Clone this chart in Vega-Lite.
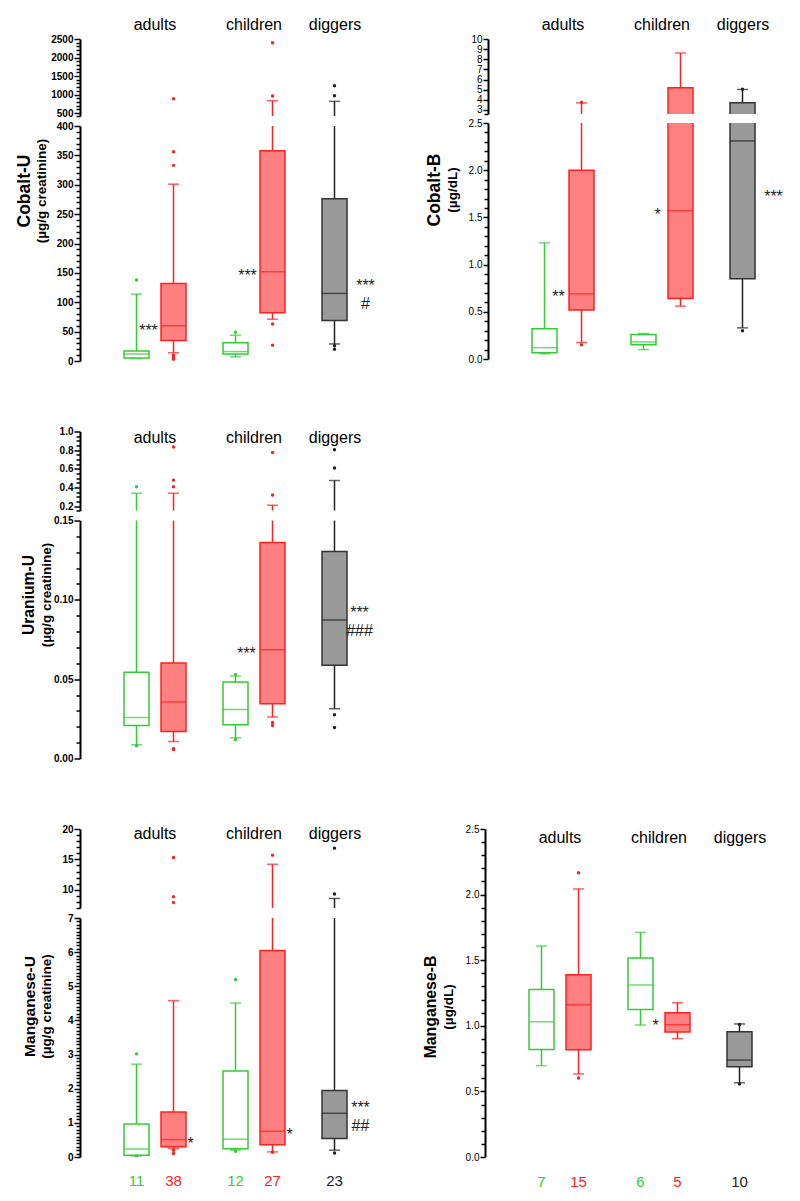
{
"$schema": "https://vega.github.io/schema/vega-lite/v6.json",
"padding": {"left": 15, "top": 16, "right": 0, "bottom": 0},
"config": {
  "font": "Liberation Sans",
  "view": {"stroke": null},
  "axis": {"domainWidth": 2, "domainColor": "#000000", "tickColor": "#000000", "tickWidth": 1.5, "labelFontSize": 10, "labelColor": "#000000", "labelPadding": 1, "grid": false, "title": null, "labelOverlap": false, "labelFont": "Liberation Sans"},
  "title": {"color": "#000000", "subtitleColor": "#000000"}
},
"datasets": {
  "boxes": [
    {"panel":"CoU","group":"adults","sub":"1","cohort":"control","lo":4,"q1":5,"med":12,"q3":17,"hi":114},
    {"panel":"CoU","group":"adults","sub":"2","cohort":"exposed","lo":14,"q1":35,"med":60,"q3":132,"hi":301},
    {"panel":"CoU","group":"children","sub":"1","cohort":"control","lo":7,"q1":12,"med":16,"q3":31,"hi":44},
    {"panel":"CoU","group":"children","sub":"2","cohort":"exposed","lo":71,"q1":82,"med":152,"q3":358,"hi":832},
    {"panel":"CoU","group":"diggers","sub":"1","cohort":"diggers","lo":29,"q1":69,"med":115,"q3":276,"hi":816},
    {"panel":"CoB","group":"adults","sub":"1","cohort":"control","lo":0.055,"q1":0.065,"med":0.12,"q3":0.32,"hi":1.23},
    {"panel":"CoB","group":"adults","sub":"2","cohort":"exposed","lo":0.175,"q1":0.52,"med":0.69,"q3":2.0,"hi":3.7},
    {"panel":"CoB","group":"children","sub":"1","cohort":"control","lo":0.10,"q1":0.15,"med":0.18,"q3":0.26,"hi":0.27},
    {"panel":"CoB","group":"children","sub":"2","cohort":"exposed","lo":0.56,"q1":0.64,"med":1.57,"q3":5.18,"hi":8.62},
    {"panel":"CoB","group":"diggers","sub":"1","cohort":"diggers","lo":0.33,"q1":0.85,"med":2.31,"q3":3.7,"hi":5.02},
    {"panel":"UU","group":"adults","sub":"1","cohort":"control","lo":0.0086,"q1":0.0208,"med":0.0259,"q3":0.0543,"hi":0.34},
    {"panel":"UU","group":"adults","sub":"2","cohort":"exposed","lo":0.0107,"q1":0.017,"med":0.0356,"q3":0.0602,"hi":0.34},
    {"panel":"UU","group":"children","sub":"1","cohort":"control","lo":0.0131,"q1":0.0213,"med":0.0309,"q3":0.0482,"hi":0.052},
    {"panel":"UU","group":"children","sub":"2","cohort":"exposed","lo":0.0261,"q1":0.0345,"med":0.0686,"q3":0.1361,"hi":0.211},
    {"panel":"UU","group":"diggers","sub":"1","cohort":"diggers","lo":0.0314,"q1":0.0587,"med":0.0873,"q3":0.1304,"hi":0.476},
    {"panel":"MnU","group":"adults","sub":"1","cohort":"control","lo":0.03,"q1":0.05,"med":0.235,"q3":0.97,"hi":2.72,"n":"11"},
    {"panel":"MnU","group":"adults","sub":"2","cohort":"exposed","lo":0.245,"q1":0.30,"med":0.51,"q3":1.32,"hi":4.58,"n":"38"},
    {"panel":"MnU","group":"children","sub":"1","cohort":"control","lo":0.2,"q1":0.245,"med":0.52,"q3":2.52,"hi":4.51,"n":"12"},
    {"panel":"MnU","group":"children","sub":"2","cohort":"exposed","lo":0.15,"q1":0.36,"med":0.755,"q3":6.05,"hi":14.2,"n":"27"},
    {"panel":"MnU","group":"diggers","sub":"1","cohort":"diggers","lo":0.2,"q1":0.54,"med":1.28,"q3":1.95,"hi":8.57,"n":"23"},
    {"panel":"MnB","group":"adults","sub":"1","cohort":"control","lo":0.696,"q1":0.82,"med":1.031,"q3":1.277,"hi":1.608,"n":"7"},
    {"panel":"MnB","group":"adults","sub":"2","cohort":"exposed","lo":0.633,"q1":0.818,"med":1.161,"q3":1.39,"hi":2.043,"n":"15"},
    {"panel":"MnB","group":"children","sub":"1","cohort":"control","lo":1.006,"q1":1.125,"med":1.311,"q3":1.517,"hi":1.712,"n":"6"},
    {"panel":"MnB","group":"children","sub":"2","cohort":"exposed","lo":0.902,"q1":0.953,"med":1.008,"q3":1.10,"hi":1.176,"n":"5"},
    {"panel":"MnB","group":"diggers","sub":"1","cohort":"diggers","lo":0.566,"q1":0.688,"med":0.739,"q3":0.955,"hi":1.014,"n":"10"}
  ],
  "outliers": [
    {"panel":"CoU","group":"adults","sub":"1","cohort":"control","value":138},
    {"panel":"CoU","group":"adults","sub":"2","cohort":"exposed","value":333},
    {"panel":"CoU","group":"adults","sub":"2","cohort":"exposed","value":356},
    {"panel":"CoU","group":"adults","sub":"2","cohort":"exposed","value":886},
    {"panel":"CoU","group":"adults","sub":"2","cohort":"exposed","value":10},
    {"panel":"CoU","group":"adults","sub":"2","cohort":"exposed","value":3},
    {"panel":"CoU","group":"adults","sub":"2","cohort":"exposed","value":6},
    {"panel":"CoU","group":"children","sub":"1","cohort":"control","value":49},
    {"panel":"CoU","group":"children","sub":"2","cohort":"exposed","value":63},
    {"panel":"CoU","group":"children","sub":"2","cohort":"exposed","value":27},
    {"panel":"CoU","group":"children","sub":"2","cohort":"exposed","value":959},
    {"panel":"CoU","group":"children","sub":"2","cohort":"exposed","value":2400},
    {"panel":"CoU","group":"diggers","sub":"1","cohort":"diggers","value":20},
    {"panel":"CoU","group":"diggers","sub":"1","cohort":"diggers","value":26},
    {"panel":"CoU","group":"diggers","sub":"1","cohort":"diggers","value":968},
    {"panel":"CoU","group":"diggers","sub":"1","cohort":"diggers","value":1238},
    {"panel":"CoB","group":"adults","sub":"2","cohort":"exposed","value":0.15},
    {"panel":"CoB","group":"adults","sub":"2","cohort":"exposed","value":3.75},
    {"panel":"CoB","group":"diggers","sub":"1","cohort":"diggers","value":0.30},
    {"panel":"CoB","group":"diggers","sub":"1","cohort":"diggers","value":5.05},
    {"panel":"UU","group":"adults","sub":"1","cohort":"control","value":0.41},
    {"panel":"UU","group":"adults","sub":"1","cohort":"control","value":0.008},
    {"panel":"UU","group":"adults","sub":"2","cohort":"exposed","value":0.41},
    {"panel":"UU","group":"adults","sub":"2","cohort":"exposed","value":0.48},
    {"panel":"UU","group":"adults","sub":"2","cohort":"exposed","value":0.834},
    {"panel":"UU","group":"adults","sub":"2","cohort":"exposed","value":0.0063},
    {"panel":"UU","group":"adults","sub":"2","cohort":"exposed","value":0.0056},
    {"panel":"UU","group":"children","sub":"1","cohort":"control","value":0.053},
    {"panel":"UU","group":"children","sub":"1","cohort":"control","value":0.012},
    {"panel":"UU","group":"children","sub":"2","cohort":"exposed","value":0.32},
    {"panel":"UU","group":"children","sub":"2","cohort":"exposed","value":0.775},
    {"panel":"UU","group":"children","sub":"2","cohort":"exposed","value":0.0227},
    {"panel":"UU","group":"children","sub":"2","cohort":"exposed","value":0.0208},
    {"panel":"UU","group":"diggers","sub":"1","cohort":"diggers","value":0.61},
    {"panel":"UU","group":"diggers","sub":"1","cohort":"diggers","value":0.805},
    {"panel":"UU","group":"diggers","sub":"1","cohort":"diggers","value":0.0276},
    {"panel":"UU","group":"diggers","sub":"1","cohort":"diggers","value":0.0196},
    {"panel":"MnU","group":"adults","sub":"1","cohort":"control","value":3.02},
    {"panel":"MnU","group":"adults","sub":"1","cohort":"control","value":0.03},
    {"panel":"MnU","group":"adults","sub":"2","cohort":"exposed","value":15.3},
    {"panel":"MnU","group":"adults","sub":"2","cohort":"exposed","value":8.85},
    {"panel":"MnU","group":"adults","sub":"2","cohort":"exposed","value":7.9},
    {"panel":"MnU","group":"adults","sub":"2","cohort":"exposed","value":0.2},
    {"panel":"MnU","group":"adults","sub":"2","cohort":"exposed","value":0.1},
    {"panel":"MnU","group":"children","sub":"1","cohort":"control","value":5.2},
    {"panel":"MnU","group":"children","sub":"1","cohort":"control","value":0.17},
    {"panel":"MnU","group":"children","sub":"2","cohort":"exposed","value":15.7},
    {"panel":"MnU","group":"children","sub":"2","cohort":"exposed","value":0.14},
    {"panel":"MnU","group":"diggers","sub":"1","cohort":"diggers","value":9.29},
    {"panel":"MnU","group":"diggers","sub":"1","cohort":"diggers","value":16.85},
    {"panel":"MnU","group":"diggers","sub":"1","cohort":"diggers","value":0.12},
    {"panel":"MnB","group":"adults","sub":"2","cohort":"exposed","value":2.167},
    {"panel":"MnB","group":"adults","sub":"2","cohort":"exposed","value":0.602},
    {"panel":"MnB","group":"diggers","sub":"1","cohort":"diggers","value":0.556},
    {"panel":"MnB","group":"diggers","sub":"1","cohort":"diggers","value":1.01}
  ],
  "annots": [
    {"panel":"CoU","group":"adults","sub":"2","side":"L","value":58,"text":"***"},
    {"panel":"CoU","group":"children","sub":"2","side":"L","value":152,"text":"***"},
    {"panel":"CoU","group":"diggers","sub":"1","side":"R","value":135,"text":"***"},
    {"panel":"CoU","group":"diggers","sub":"1","side":"H","value":97,"text":"#"},
    {"panel":"CoB","group":"adults","sub":"2","side":"L","value":0.70,"text":"**"},
    {"panel":"CoB","group":"children","sub":"2","side":"L","value":1.57,"text":"*"},
    {"panel":"CoB","group":"diggers","sub":"1","side":"R","value":1.76,"text":"***"},
    {"panel":"UU","group":"children","sub":"2","side":"L","value":0.0686,"text":"***"},
    {"panel":"UU","group":"diggers","sub":"1","side":"R","value":0.0943,"text":"***"},
    {"panel":"UU","group":"diggers","sub":"1","side":"H","value":0.0806,"text":"###"},
    {"panel":"MnU","group":"adults","sub":"2","side":"N","value":0.51,"text":"*"},
    {"panel":"MnU","group":"children","sub":"2","side":"N","value":0.76,"text":"*"},
    {"panel":"MnU","group":"diggers","sub":"1","side":"R","value":1.55,"text":"***"},
    {"panel":"MnU","group":"diggers","sub":"1","side":"H","value":0.91,"text":"##"},
    {"panel":"MnB","group":"children","sub":"2","side":"L","value":1.026,"text":"*"}
  ]
},
"spacing": 60.5,
"vconcat": [
 {"hconcat": [
  {"title": {"text":"Cobalt-U","subtitle":"(µg/g creatinine)","orient":"left","anchor":"middle","frame":"bounds","fontSize":17.5,"fontWeight":"bold","subtitleFontSize":13.5,"subtitleFontWeight":"bold","subtitlePadding":2,"offset":2,"font":"Liberation Sans","subtitleFont":"Liberation Sans"},
   "spacing": 10, "bounds": "flush",
   "vconcat": [
    {"width": 310, "height": 77,
     "encoding": {"x": {"field":"group","type":"nominal","scale":{"domain":["adults","children","diggers"],"paddingInner":0.2525,"paddingOuter":0.192,"align":1},"axis":{"orient":"top","domain":false,"ticks":false,"tickSize":0,"labelFontSize":16,"labelFontWeight":"normal","labelPadding":7,"offset":0,"labelAngle":0,"labelOffset":{"condition":{"test":"datum.value == 'diggers'","value":-18},"value":0}}},
       "xOffset": {"field":"sub","type":"nominal","scale":{"domain":["1","2"],"paddingInner":0,"paddingOuter":0}},
       "color": {"field":"cohort","type":"nominal","scale":{"domain":["control","exposed","diggers"],"range":["#33cc33","#ff2020","#222222"]},"legend":null}},
     "layer": [
      {"data":{"name":"boxes"},"transform":[{"filter":"datum.panel=='CoU'"}],"mark":{"type":"rule","clip":true,"strokeWidth":1.5},
       "encoding":{"y":{"field":"lo","type":"quantitative","scale":{"domain":[420,2500],"nice":false,"zero":false},"axis":{"values":[420,500,600,700,800,900,1000,1100,1200,1300,1400,1500,1600,1700,1800,1900,2000,2100,2200,2300,2400,2500],"tickCount":500,"labelExpr":"datum.value % 500 == 0 ? format(datum.value,'d') : ''","tickSize":{"condition":{"test":"datum.value % 500 == 0","value":6},"value":4},"labelOverlap":false,"labelFontWeight":"bold"}},"y2":{"field":"hi"}}},
      {"data":{"name":"boxes"},"transform":[{"filter":"datum.panel=='CoU'"},{"fold":["lo","hi"],"as":["k","v"]}],"mark":{"type":"tick","clip":true,"size":11,"thickness":1.5},
       "encoding":{"y":{"field":"v","type":"quantitative","scale":{"domain":[420,2500],"nice":false,"zero":false}}}},
      {"data":{"name":"boxes"},"transform":[{"filter":"datum.panel=='CoU'"}],"mark":{"type":"bar","clip":true,"width":25,"strokeWidth":1.5},
       "encoding":{"y":{"field":"q1","type":"quantitative","scale":{"domain":[420,2500],"nice":false,"zero":false}},"y2":{"field":"q3"},
        "fill":{"field":"cohort","type":"nominal","scale":{"domain":["control","exposed","diggers"],"range":["#ffffff","#ff8080","#999999"]},"legend":null},
        "stroke":{"field":"cohort","type":"nominal","scale":{"domain":["control","exposed","diggers"],"range":["#33cc33","#ff2020","#333333"]},"legend":null}}},
      {"data":{"name":"boxes"},"transform":[{"filter":"datum.panel=='CoU'"}],"mark":{"type":"tick","clip":true,"size":25,"thickness":1.5},
       "encoding":{"y":{"field":"med","type":"quantitative","scale":{"domain":[420,2500],"nice":false,"zero":false}}}},
      {"data":{"name":"outliers"},"transform":[{"filter":"datum.panel=='CoU'"}],"mark":{"type":"circle","clip":true,"size":12,"opacity":1},
       "encoding":{"y":{"field":"value","type":"quantitative","scale":{"domain":[420,2500],"nice":false,"zero":false}}}}
     ]},
    {"width": 310, "height": 235,
     "encoding": {"x": {"field":"group","type":"nominal","scale":{"domain":["adults","children","diggers"],"paddingInner":0.2525,"paddingOuter":0.192,"align":1},"axis":null},
       "xOffset": {"field":"sub","type":"nominal","scale":{"domain":["1","2"],"paddingInner":0,"paddingOuter":0}},
       "color": {"field":"cohort","type":"nominal","scale":{"domain":["control","exposed","diggers"],"range":["#33cc33","#ff2020","#222222"]},"legend":null}},
     "layer": [
      {"data":{"name":"boxes"},"transform":[{"filter":"datum.panel=='CoU'"}],"mark":{"type":"rule","clip":true,"strokeWidth":1.5},
       "encoding":{"y":{"field":"lo","type":"quantitative","scale":{"domain":[0,400],"nice":false,"zero":false},"axis":{"values":[0,10,20,30,40,50,60,70,80,90,100,110,120,130,140,150,160,170,180,190,200,210,220,230,240,250,260,270,280,290,300,310,320,330,340,350,360,370,380,390,400],"tickCount":500,"labelExpr":"datum.value % 50 == 0 ? format(datum.value,'d') : ''","tickSize":{"condition":{"test":"datum.value % 50 == 0","value":6},"value":4},"labelOverlap":false,"labelFontWeight":"bold"}},"y2":{"field":"hi"}}},
      {"data":{"name":"boxes"},"transform":[{"filter":"datum.panel=='CoU'"},{"fold":["lo","hi"],"as":["k","v"]}],"mark":{"type":"tick","clip":true,"size":11,"thickness":1.5},
       "encoding":{"y":{"field":"v","type":"quantitative","scale":{"domain":[0,400],"nice":false,"zero":false}}}},
      {"data":{"name":"boxes"},"transform":[{"filter":"datum.panel=='CoU'"}],"mark":{"type":"bar","clip":true,"width":25,"strokeWidth":1.5},
       "encoding":{"y":{"field":"q1","type":"quantitative","scale":{"domain":[0,400],"nice":false,"zero":false}},"y2":{"field":"q3"},
        "fill":{"field":"cohort","type":"nominal","scale":{"domain":["control","exposed","diggers"],"range":["#ffffff","#ff8080","#999999"]},"legend":null},
        "stroke":{"field":"cohort","type":"nominal","scale":{"domain":["control","exposed","diggers"],"range":["#33cc33","#ff2020","#333333"]},"legend":null}}},
      {"data":{"name":"boxes"},"transform":[{"filter":"datum.panel=='CoU'"}],"mark":{"type":"tick","clip":true,"size":25,"thickness":1.5},
       "encoding":{"y":{"field":"med","type":"quantitative","scale":{"domain":[0,400],"nice":false,"zero":false}}}},
      {"data":{"name":"outliers"},"transform":[{"filter":"datum.panel=='CoU'"}],"mark":{"type":"circle","clip":true,"size":12,"opacity":1},
       "encoding":{"y":{"field":"value","type":"quantitative","scale":{"domain":[0,400],"nice":false,"zero":false}}}},
      {"data":{"name":"annots"},"transform":[{"filter":"datum.panel=='CoU' && datum.side=='L'"}],"mark":{"type":"text","fontSize":16,"dx":-25,"dy":4,"align":"center","baseline":"middle"},
       "encoding":{"y":{"field":"value","type":"quantitative","scale":{"domain":[0,400],"nice":false,"zero":false}},"text":{"field":"text"},"color":{"value":"#222222"}}},
      {"data":{"name":"annots"},"transform":[{"filter":"datum.panel=='CoU' && datum.side=='R'"}],"mark":{"type":"text","fontSize":16,"dx":31,"dy":4,"align":"center","baseline":"middle"},
       "encoding":{"y":{"field":"value","type":"quantitative","scale":{"domain":[0,400],"nice":false,"zero":false}},"text":{"field":"text"},"color":{"value":"#222222"}}},
      {"data":{"name":"annots"},"transform":[{"filter":"datum.panel=='CoU' && datum.side=='H'"}],"mark":{"type":"text","fontSize":16,"dx":31,"dy":0,"align":"center","baseline":"middle"},
       "encoding":{"y":{"field":"value","type":"quantitative","scale":{"domain":[0,400],"nice":false,"zero":false}},"text":{"field":"text"},"color":{"value":"#222222"}}}
     ]}
   ]},
  {"title": {"text":"Cobalt-B","subtitle":"(µg/dL)","orient":"left","anchor":"middle","frame":"bounds","fontSize":17.5,"fontWeight":"bold","subtitleFontSize":13.5,"subtitleFontWeight":"bold","subtitlePadding":2,"offset":9,"font":"Liberation Sans","subtitleFont":"Liberation Sans"},
   "spacing": 9, "bounds": "flush",
   "vconcat": [
    {"width": 310, "height": 75,
     "encoding": {"x": {"field":"group","type":"nominal","scale":{"domain":["adults","children","diggers"],"paddingInner":0.2525,"paddingOuter":0.192,"align":1},"axis":{"orient":"top","domain":false,"ticks":false,"tickSize":0,"labelFontSize":16,"labelFontWeight":"normal","labelPadding":7,"offset":0,"labelAngle":0,"labelOffset":{"condition":{"test":"datum.value == 'diggers'","value":-18},"value":0}}},
       "xOffset": {"field":"sub","type":"nominal","scale":{"domain":["1","2"],"paddingInner":0,"paddingOuter":0}},
       "color": {"field":"cohort","type":"nominal","scale":{"domain":["control","exposed","diggers"],"range":["#33cc33","#ff2020","#222222"]},"legend":null}},
     "layer": [
      {"data":{"name":"boxes"},"transform":[{"filter":"datum.panel=='CoB'"}],"mark":{"type":"rule","clip":true,"strokeWidth":1.5},
       "encoding":{"y":{"field":"lo","type":"quantitative","scale":{"domain":[2.6,10],"nice":false,"zero":false},"axis":{"values":[2.6,3,4,5,6,7,8,9,10],"tickCount":500,"labelExpr":"datum.value >= 3 ? format(datum.value,'d') : ''","tickSize":{"condition":{"test":"datum.value >= 3","value":5},"value":4},"labelOverlap":false,"labelFontWeight":"normal"}},"y2":{"field":"hi"}}},
      {"data":{"name":"boxes"},"transform":[{"filter":"datum.panel=='CoB'"},{"fold":["lo","hi"],"as":["k","v"]}],"mark":{"type":"tick","clip":true,"size":11,"thickness":1.5},
       "encoding":{"y":{"field":"v","type":"quantitative","scale":{"domain":[2.6,10],"nice":false,"zero":false}}}},
      {"data":{"name":"boxes"},"transform":[{"filter":"datum.panel=='CoB'"}],"mark":{"type":"bar","clip":true,"width":25,"strokeWidth":1.5},
       "encoding":{"y":{"field":"q1","type":"quantitative","scale":{"domain":[2.6,10],"nice":false,"zero":false}},"y2":{"field":"q3"},
        "fill":{"field":"cohort","type":"nominal","scale":{"domain":["control","exposed","diggers"],"range":["#ffffff","#ff8080","#999999"]},"legend":null},
        "stroke":{"field":"cohort","type":"nominal","scale":{"domain":["control","exposed","diggers"],"range":["#33cc33","#ff2020","#333333"]},"legend":null}}},
      {"data":{"name":"boxes"},"transform":[{"filter":"datum.panel=='CoB'"}],"mark":{"type":"tick","clip":true,"size":25,"thickness":1.5},
       "encoding":{"y":{"field":"med","type":"quantitative","scale":{"domain":[2.6,10],"nice":false,"zero":false}}}},
      {"data":{"name":"outliers"},"transform":[{"filter":"datum.panel=='CoB'"}],"mark":{"type":"circle","clip":true,"size":12,"opacity":1},
       "encoding":{"y":{"field":"value","type":"quantitative","scale":{"domain":[2.6,10],"nice":false,"zero":false}}}}
     ]},
    {"width": 310, "height": 236,
     "encoding": {"x": {"field":"group","type":"nominal","scale":{"domain":["adults","children","diggers"],"paddingInner":0.2525,"paddingOuter":0.192,"align":1},"axis":null},
       "xOffset": {"field":"sub","type":"nominal","scale":{"domain":["1","2"],"paddingInner":0,"paddingOuter":0}},
       "color": {"field":"cohort","type":"nominal","scale":{"domain":["control","exposed","diggers"],"range":["#33cc33","#ff2020","#222222"]},"legend":null}},
     "layer": [
      {"data":{"name":"boxes"},"transform":[{"filter":"datum.panel=='CoB'"}],"mark":{"type":"rule","clip":true,"strokeWidth":1.5},
       "encoding":{"y":{"field":"lo","type":"quantitative","scale":{"domain":[0,2.5],"nice":false,"zero":false},"axis":{"values":[0,0.1,0.2,0.3,0.4,0.5,0.6,0.7,0.8,0.9,1,1.1,1.2,1.3,1.4,1.5,1.6,1.7,1.8,1.9,2,2.1,2.2,2.3,2.4,2.5],"tickCount":500,"labelExpr":"abs(datum.value*2-round(datum.value*2))<0.001 ? format(datum.value,'.1f') : ''","tickSize":{"condition":{"test":"abs(datum.value*2-round(datum.value*2))<0.001","value":5},"value":4},"labelOverlap":false,"labelFontWeight":"normal"}},"y2":{"field":"hi"}}},
      {"data":{"name":"boxes"},"transform":[{"filter":"datum.panel=='CoB'"},{"fold":["lo","hi"],"as":["k","v"]}],"mark":{"type":"tick","clip":true,"size":11,"thickness":1.5},
       "encoding":{"y":{"field":"v","type":"quantitative","scale":{"domain":[0,2.5],"nice":false,"zero":false}}}},
      {"data":{"name":"boxes"},"transform":[{"filter":"datum.panel=='CoB'"}],"mark":{"type":"bar","clip":true,"width":25,"strokeWidth":1.5},
       "encoding":{"y":{"field":"q1","type":"quantitative","scale":{"domain":[0,2.5],"nice":false,"zero":false}},"y2":{"field":"q3"},
        "fill":{"field":"cohort","type":"nominal","scale":{"domain":["control","exposed","diggers"],"range":["#ffffff","#ff8080","#999999"]},"legend":null},
        "stroke":{"field":"cohort","type":"nominal","scale":{"domain":["control","exposed","diggers"],"range":["#33cc33","#ff2020","#333333"]},"legend":null}}},
      {"data":{"name":"boxes"},"transform":[{"filter":"datum.panel=='CoB'"}],"mark":{"type":"tick","clip":true,"size":25,"thickness":1.5},
       "encoding":{"y":{"field":"med","type":"quantitative","scale":{"domain":[0,2.5],"nice":false,"zero":false}}}},
      {"data":{"name":"outliers"},"transform":[{"filter":"datum.panel=='CoB'"}],"mark":{"type":"circle","clip":true,"size":12,"opacity":1},
       "encoding":{"y":{"field":"value","type":"quantitative","scale":{"domain":[0,2.5],"nice":false,"zero":false}}}},
      {"data":{"name":"annots"},"transform":[{"filter":"datum.panel=='CoB' && datum.side=='L'"}],"mark":{"type":"text","fontSize":16,"dx":-23,"dy":4,"align":"center","baseline":"middle"},
       "encoding":{"y":{"field":"value","type":"quantitative","scale":{"domain":[0,2.5],"nice":false,"zero":false}},"text":{"field":"text"},"color":{"value":"#222222"}}},
      {"data":{"name":"annots"},"transform":[{"filter":"datum.panel=='CoB' && datum.side=='R'"}],"mark":{"type":"text","fontSize":16,"dx":31,"dy":4,"align":"center","baseline":"middle"},
       "encoding":{"y":{"field":"value","type":"quantitative","scale":{"domain":[0,2.5],"nice":false,"zero":false}},"text":{"field":"text"},"color":{"value":"#222222"}}}
     ]}
   ]}
 ], "spacing": 36},
 {"title": {"text":"Uranium-U","subtitle":"(µg/g creatinine)","orient":"left","anchor":"middle","frame":"bounds","fontSize":15.7,"fontWeight":"bold","subtitleFontSize":13.5,"subtitleFontWeight":"bold","subtitlePadding":2,"offset":-1,"font":"Liberation Sans","subtitleFont":"Liberation Sans"},
  "spacing": 10, "bounds": "flush",
  "vconcat": [
    {"width": 310, "height": 79,
     "encoding": {"x": {"field":"group","type":"nominal","scale":{"domain":["adults","children","diggers"],"paddingInner":0.2525,"paddingOuter":0.192,"align":1},"axis":{"orient":"top","domain":false,"ticks":false,"tickSize":0,"labelFontSize":16,"labelFontWeight":"normal","labelPadding":0,"offset":-14,"labelAngle":0,"labelOffset":{"condition":{"test":"datum.value == 'diggers'","value":-18},"value":0}}},
       "xOffset": {"field":"sub","type":"nominal","scale":{"domain":["1","2"],"paddingInner":0,"paddingOuter":0}},
       "color": {"field":"cohort","type":"nominal","scale":{"domain":["control","exposed","diggers"],"range":["#33cc33","#ff2020","#222222"]},"legend":null}},
     "layer": [
      {"data":{"name":"boxes"},"transform":[{"filter":"datum.panel=='UU'"}],"mark":{"type":"rule","clip":true,"strokeWidth":1.5},
       "encoding":{"y":{"field":"lo","type":"quantitative","scale":{"domain":[0.155,1],"nice":false,"zero":false},"axis":{"values":[0.155,0.2,0.25,0.3,0.35,0.4,0.45,0.5,0.55,0.6,0.65,0.7,0.75,0.8,0.85,0.9,0.95,1],"tickCount":500,"labelExpr":"abs(datum.value*5-round(datum.value*5))<0.001 ? format(datum.value,'.1f') : ''","tickSize":{"condition":{"test":"abs(datum.value*5-round(datum.value*5))<0.001","value":6},"value":4},"labelOverlap":false,"labelFontWeight":"bold"}},"y2":{"field":"hi"}}},
      {"data":{"name":"boxes"},"transform":[{"filter":"datum.panel=='UU'"},{"fold":["lo","hi"],"as":["k","v"]}],"mark":{"type":"tick","clip":true,"size":11,"thickness":1.5},
       "encoding":{"y":{"field":"v","type":"quantitative","scale":{"domain":[0.155,1],"nice":false,"zero":false}}}},
      {"data":{"name":"boxes"},"transform":[{"filter":"datum.panel=='UU'"}],"mark":{"type":"bar","clip":true,"width":25,"strokeWidth":1.5},
       "encoding":{"y":{"field":"q1","type":"quantitative","scale":{"domain":[0.155,1],"nice":false,"zero":false}},"y2":{"field":"q3"},
        "fill":{"field":"cohort","type":"nominal","scale":{"domain":["control","exposed","diggers"],"range":["#ffffff","#ff8080","#999999"]},"legend":null},
        "stroke":{"field":"cohort","type":"nominal","scale":{"domain":["control","exposed","diggers"],"range":["#33cc33","#ff2020","#333333"]},"legend":null}}},
      {"data":{"name":"boxes"},"transform":[{"filter":"datum.panel=='UU'"}],"mark":{"type":"tick","clip":true,"size":25,"thickness":1.5},
       "encoding":{"y":{"field":"med","type":"quantitative","scale":{"domain":[0.155,1],"nice":false,"zero":false}}}},
      {"data":{"name":"outliers"},"transform":[{"filter":"datum.panel=='UU'"}],"mark":{"type":"circle","clip":true,"size":12,"opacity":1},
       "encoding":{"y":{"field":"value","type":"quantitative","scale":{"domain":[0.155,1],"nice":false,"zero":false}}}}
     ]},
    {"width": 310, "height": 238,
     "encoding": {"x": {"field":"group","type":"nominal","scale":{"domain":["adults","children","diggers"],"paddingInner":0.2525,"paddingOuter":0.192,"align":1},"axis":null},
       "xOffset": {"field":"sub","type":"nominal","scale":{"domain":["1","2"],"paddingInner":0,"paddingOuter":0}},
       "color": {"field":"cohort","type":"nominal","scale":{"domain":["control","exposed","diggers"],"range":["#33cc33","#ff2020","#222222"]},"legend":null}},
     "layer": [
      {"data":{"name":"boxes"},"transform":[{"filter":"datum.panel=='UU'"}],"mark":{"type":"rule","clip":true,"strokeWidth":1.5},
       "encoding":{"y":{"field":"lo","type":"quantitative","scale":{"domain":[0,0.15],"nice":false,"zero":false},"axis":{"values":[0,0.01,0.02,0.03,0.04,0.05,0.06,0.07,0.08,0.09,0.1,0.11,0.12,0.13,0.14,0.15],"tickCount":500,"labelExpr":"abs(datum.value*20-round(datum.value*20))<0.001 ? format(datum.value,'.2f') : ''","tickSize":{"condition":{"test":"abs(datum.value*20-round(datum.value*20))<0.001","value":6},"value":4},"labelOverlap":false,"labelFontWeight":"bold"}},"y2":{"field":"hi"}}},
      {"data":{"name":"boxes"},"transform":[{"filter":"datum.panel=='UU'"},{"fold":["lo","hi"],"as":["k","v"]}],"mark":{"type":"tick","clip":true,"size":11,"thickness":1.5},
       "encoding":{"y":{"field":"v","type":"quantitative","scale":{"domain":[0,0.15],"nice":false,"zero":false}}}},
      {"data":{"name":"boxes"},"transform":[{"filter":"datum.panel=='UU'"}],"mark":{"type":"bar","clip":true,"width":25,"strokeWidth":1.5},
       "encoding":{"y":{"field":"q1","type":"quantitative","scale":{"domain":[0,0.15],"nice":false,"zero":false}},"y2":{"field":"q3"},
        "fill":{"field":"cohort","type":"nominal","scale":{"domain":["control","exposed","diggers"],"range":["#ffffff","#ff8080","#999999"]},"legend":null},
        "stroke":{"field":"cohort","type":"nominal","scale":{"domain":["control","exposed","diggers"],"range":["#33cc33","#ff2020","#333333"]},"legend":null}}},
      {"data":{"name":"boxes"},"transform":[{"filter":"datum.panel=='UU'"}],"mark":{"type":"tick","clip":true,"size":25,"thickness":1.5},
       "encoding":{"y":{"field":"med","type":"quantitative","scale":{"domain":[0,0.15],"nice":false,"zero":false}}}},
      {"data":{"name":"outliers"},"transform":[{"filter":"datum.panel=='UU'"}],"mark":{"type":"circle","clip":true,"size":12,"opacity":1},
       "encoding":{"y":{"field":"value","type":"quantitative","scale":{"domain":[0,0.15],"nice":false,"zero":false}}}},
      {"data":{"name":"annots"},"transform":[{"filter":"datum.panel=='UU' && datum.side=='L'"}],"mark":{"type":"text","fontSize":16,"dx":-26,"dy":4,"align":"center","baseline":"middle"},
       "encoding":{"y":{"field":"value","type":"quantitative","scale":{"domain":[0,0.15],"nice":false,"zero":false}},"text":{"field":"text"},"color":{"value":"#222222"}}},
      {"data":{"name":"annots"},"transform":[{"filter":"datum.panel=='UU' && datum.side=='R'"}],"mark":{"type":"text","fontSize":16,"dx":25,"dy":4,"align":"center","baseline":"middle"},
       "encoding":{"y":{"field":"value","type":"quantitative","scale":{"domain":[0,0.15],"nice":false,"zero":false}},"text":{"field":"text"},"color":{"value":"#222222"}}},
      {"data":{"name":"annots"},"transform":[{"filter":"datum.panel=='UU' && datum.side=='H'"}],"mark":{"type":"text","fontSize":16,"dx":25,"dy":0,"align":"center","baseline":"middle"},
       "encoding":{"y":{"field":"value","type":"quantitative","scale":{"domain":[0,0.15],"nice":false,"zero":false}},"text":{"field":"text"},"color":{"value":"#222222"}}}
     ]}
  ]},
 {"hconcat": [
  {"title": {"text":"Manganese-U","subtitle":"(µg/g creatinine)","orient":"left","anchor":"middle","frame":"bounds","fontSize":15.5,"fontWeight":"bold","subtitleFontSize":13.5,"subtitleFontWeight":"bold","subtitlePadding":2,"offset":8,"font":"Liberation Sans","subtitleFont":"Liberation Sans"},
   "spacing": 10, "bounds": "flush",
   "vconcat": [
    {"width": 310, "height": 79,
     "encoding": {"x": {"field":"group","type":"nominal","scale":{"domain":["adults","children","diggers"],"paddingInner":0.2525,"paddingOuter":0.192,"align":1},"axis":{"orient":"top","domain":false,"ticks":false,"tickSize":0,"labelFontSize":16,"labelFontWeight":"normal","labelPadding":0,"offset":-12,"labelAngle":0,"labelOffset":{"condition":{"test":"datum.value == 'diggers'","value":-18},"value":0}}},
       "xOffset": {"field":"sub","type":"nominal","scale":{"domain":["1","2"],"paddingInner":0,"paddingOuter":0}},
       "color": {"field":"cohort","type":"nominal","scale":{"domain":["control","exposed","diggers"],"range":["#33cc33","#ff2020","#222222"]},"legend":null}},
     "layer": [
      {"data":{"name":"boxes"},"transform":[{"filter":"datum.panel=='MnU'"}],"mark":{"type":"rule","clip":true,"strokeWidth":1.5},
       "encoding":{"y":{"field":"lo","type":"quantitative","scale":{"domain":[7,20],"nice":false,"zero":false},"axis":{"values":[7,8,9,10,11,12,13,14,15,16,17,18,19,20],"tickCount":500,"labelExpr":"datum.value % 5 == 0 ? format(datum.value,'d') : ''","tickSize":{"condition":{"test":"datum.value % 5 == 0","value":6},"value":4},"labelOverlap":false,"labelFontWeight":"bold"}},"y2":{"field":"hi"}}},
      {"data":{"name":"boxes"},"transform":[{"filter":"datum.panel=='MnU'"},{"fold":["lo","hi"],"as":["k","v"]}],"mark":{"type":"tick","clip":true,"size":11,"thickness":1.5},
       "encoding":{"y":{"field":"v","type":"quantitative","scale":{"domain":[7,20],"nice":false,"zero":false}}}},
      {"data":{"name":"boxes"},"transform":[{"filter":"datum.panel=='MnU'"}],"mark":{"type":"bar","clip":true,"width":25,"strokeWidth":1.5},
       "encoding":{"y":{"field":"q1","type":"quantitative","scale":{"domain":[7,20],"nice":false,"zero":false}},"y2":{"field":"q3"},
        "fill":{"field":"cohort","type":"nominal","scale":{"domain":["control","exposed","diggers"],"range":["#ffffff","#ff8080","#999999"]},"legend":null},
        "stroke":{"field":"cohort","type":"nominal","scale":{"domain":["control","exposed","diggers"],"range":["#33cc33","#ff2020","#333333"]},"legend":null}}},
      {"data":{"name":"boxes"},"transform":[{"filter":"datum.panel=='MnU'"}],"mark":{"type":"tick","clip":true,"size":25,"thickness":1.5},
       "encoding":{"y":{"field":"med","type":"quantitative","scale":{"domain":[7,20],"nice":false,"zero":false}}}},
      {"data":{"name":"outliers"},"transform":[{"filter":"datum.panel=='MnU'"}],"mark":{"type":"circle","clip":true,"size":12,"opacity":1},
       "encoding":{"y":{"field":"value","type":"quantitative","scale":{"domain":[7,20],"nice":false,"zero":false}}}}
     ]},
    {"width": 310, "height": 239,
     "encoding": {"x": {"field":"group","type":"nominal","scale":{"domain":["adults","children","diggers"],"paddingInner":0.2525,"paddingOuter":0.192,"align":1},"axis":null},
       "xOffset": {"field":"sub","type":"nominal","scale":{"domain":["1","2"],"paddingInner":0,"paddingOuter":0}},
       "color": {"field":"cohort","type":"nominal","scale":{"domain":["control","exposed","diggers"],"range":["#33cc33","#ff2020","#222222"]},"legend":null}},
     "layer": [
      {"data":{"name":"boxes"},"transform":[{"filter":"datum.panel=='MnU'"}],"mark":{"type":"rule","clip":true,"strokeWidth":1.5},
       "encoding":{"y":{"field":"lo","type":"quantitative","scale":{"domain":[0,7],"nice":false,"zero":false},"axis":{"values":[0,0.1,0.2,0.3,0.4,0.5,0.6,0.7,0.8,0.9,1,1.1,1.2,1.3,1.4,1.5,1.6,1.7,1.8,1.9,2,2.1,2.2,2.3,2.4,2.5,2.6,2.7,2.8,2.9,3,3.1,3.2,3.3,3.4,3.5,3.6,3.7,3.8,3.9,4,4.1,4.2,4.3,4.4,4.5,4.6,4.7,4.8,4.9,5,5.1,5.2,5.3,5.4,5.5,5.6,5.7,5.8,5.9,6,6.1,6.2,6.3,6.4,6.5,6.6,6.7,6.8,6.9,7],"tickCount":500,"labelExpr":"abs(datum.value-round(datum.value))<0.001 ? format(datum.value,'.0f') : ''","tickSize":{"condition":{"test":"abs(datum.value-round(datum.value))<0.001","value":6},"value":4},"labelOverlap":false,"labelFontWeight":"bold"}},"y2":{"field":"hi"}}},
      {"data":{"name":"boxes"},"transform":[{"filter":"datum.panel=='MnU'"},{"fold":["lo","hi"],"as":["k","v"]}],"mark":{"type":"tick","clip":true,"size":11,"thickness":1.5},
       "encoding":{"y":{"field":"v","type":"quantitative","scale":{"domain":[0,7],"nice":false,"zero":false}}}},
      {"data":{"name":"boxes"},"transform":[{"filter":"datum.panel=='MnU'"}],"mark":{"type":"bar","clip":true,"width":25,"strokeWidth":1.5},
       "encoding":{"y":{"field":"q1","type":"quantitative","scale":{"domain":[0,7],"nice":false,"zero":false}},"y2":{"field":"q3"},
        "fill":{"field":"cohort","type":"nominal","scale":{"domain":["control","exposed","diggers"],"range":["#ffffff","#ff8080","#999999"]},"legend":null},
        "stroke":{"field":"cohort","type":"nominal","scale":{"domain":["control","exposed","diggers"],"range":["#33cc33","#ff2020","#333333"]},"legend":null}}},
      {"data":{"name":"boxes"},"transform":[{"filter":"datum.panel=='MnU'"}],"mark":{"type":"tick","clip":true,"size":25,"thickness":1.5},
       "encoding":{"y":{"field":"med","type":"quantitative","scale":{"domain":[0,7],"nice":false,"zero":false}}}},
      {"data":{"name":"outliers"},"transform":[{"filter":"datum.panel=='MnU'"}],"mark":{"type":"circle","clip":true,"size":12,"opacity":1},
       "encoding":{"y":{"field":"value","type":"quantitative","scale":{"domain":[0,7],"nice":false,"zero":false}}}},
      {"data":{"name":"annots"},"transform":[{"filter":"datum.panel=='MnU' && datum.side=='N'"}],"mark":{"type":"text","fontSize":16,"dx":17,"dy":4,"align":"center","baseline":"middle"},
       "encoding":{"y":{"field":"value","type":"quantitative","scale":{"domain":[0,7],"nice":false,"zero":false}},"text":{"field":"text"},"color":{"value":"#222222"}}},
      {"data":{"name":"annots"},"transform":[{"filter":"datum.panel=='MnU' && datum.side=='R'"}],"mark":{"type":"text","fontSize":16,"dx":26,"dy":4,"align":"center","baseline":"middle"},
       "encoding":{"y":{"field":"value","type":"quantitative","scale":{"domain":[0,7],"nice":false,"zero":false}},"text":{"field":"text"},"color":{"value":"#222222"}}},
      {"data":{"name":"annots"},"transform":[{"filter":"datum.panel=='MnU' && datum.side=='H'"}],"mark":{"type":"text","fontSize":16,"dx":26,"dy":0,"align":"center","baseline":"middle"},
       "encoding":{"y":{"field":"value","type":"quantitative","scale":{"domain":[0,7],"nice":false,"zero":false}},"text":{"field":"text"},"color":{"value":"#222222"}}},
      {"data":{"name":"boxes"},"transform":[{"filter":"datum.panel=='MnU'"}],"mark":{"type":"text","fontSize":15,"dy":24,"align":"center","baseline":"middle"},
       "encoding":{"y":{"datum":0,"type":"quantitative","scale":{"domain":[0,7],"nice":false,"zero":false}},"text":{"field":"n"}}}
     ]}
   ]},
  {"title": {"text":"Manganese-B","subtitle":"(µg/dL)","orient":"left","anchor":"middle","frame":"bounds","fontSize":15.8,"fontWeight":"bold","subtitleFontSize":13.5,"subtitleFontWeight":"bold","subtitlePadding":2,"offset":9,"font":"Liberation Sans","subtitleFont":"Liberation Sans"},
   "width": 310, "height": 328,
   "encoding": {"x": {"field":"group","type":"nominal","scale":{"domain":["adults","children","diggers"],"paddingInner":0.2525,"paddingOuter":0.192,"align":1},"axis":{"orient":"top","domain":false,"ticks":false,"tickSize":0,"labelFontSize":16,"labelFontWeight":"normal","labelPadding":0,"offset":-16,"labelAngle":0,"labelOffset":{"condition":{"test":"datum.value == 'diggers'","value":-18},"value":0}}},
     "xOffset": {"field":"sub","type":"nominal","scale":{"domain":["1","2"],"paddingInner":0,"paddingOuter":0}},
     "color": {"field":"cohort","type":"nominal","scale":{"domain":["control","exposed","diggers"],"range":["#33cc33","#ff2020","#222222"]},"legend":null}},
   "layer": [
      {"data":{"name":"boxes"},"transform":[{"filter":"datum.panel=='MnB'"}],"mark":{"type":"rule","clip":true,"strokeWidth":1.5},
       "encoding":{"y":{"field":"lo","type":"quantitative","scale":{"domain":[0,2.5],"nice":false,"zero":false},"axis":{"values":[0,0.1,0.2,0.3,0.4,0.5,0.6,0.7,0.8,0.9,1,1.1,1.2,1.3,1.4,1.5,1.6,1.7,1.8,1.9,2,2.1,2.2,2.3,2.4,2.5],"tickCount":500,"labelExpr":"abs(datum.value*2-round(datum.value*2))<0.001 ? format(datum.value,'.1f') : ''","tickSize":{"condition":{"test":"abs(datum.value*2-round(datum.value*2))<0.001","value":5},"value":4},"labelOverlap":false,"labelFontWeight":"normal"}},"y2":{"field":"hi"}}},
      {"data":{"name":"boxes"},"transform":[{"filter":"datum.panel=='MnB'"},{"fold":["lo","hi"],"as":["k","v"]}],"mark":{"type":"tick","clip":true,"size":11,"thickness":1.5},
       "encoding":{"y":{"field":"v","type":"quantitative","scale":{"domain":[0,2.5],"nice":false,"zero":false}}}},
      {"data":{"name":"boxes"},"transform":[{"filter":"datum.panel=='MnB'"}],"mark":{"type":"bar","clip":true,"width":25,"strokeWidth":1.5},
       "encoding":{"y":{"field":"q1","type":"quantitative","scale":{"domain":[0,2.5],"nice":false,"zero":false}},"y2":{"field":"q3"},
        "fill":{"field":"cohort","type":"nominal","scale":{"domain":["control","exposed","diggers"],"range":["#ffffff","#ff8080","#999999"]},"legend":null},
        "stroke":{"field":"cohort","type":"nominal","scale":{"domain":["control","exposed","diggers"],"range":["#33cc33","#ff2020","#333333"]},"legend":null}}},
      {"data":{"name":"boxes"},"transform":[{"filter":"datum.panel=='MnB'"}],"mark":{"type":"tick","clip":true,"size":25,"thickness":1.5},
       "encoding":{"y":{"field":"med","type":"quantitative","scale":{"domain":[0,2.5],"nice":false,"zero":false}}}},
      {"data":{"name":"outliers"},"transform":[{"filter":"datum.panel=='MnB'"}],"mark":{"type":"circle","clip":true,"size":12,"opacity":1},
       "encoding":{"y":{"field":"value","type":"quantitative","scale":{"domain":[0,2.5],"nice":false,"zero":false}}}},
      {"data":{"name":"annots"},"transform":[{"filter":"datum.panel=='MnB' && datum.side=='L'"}],"mark":{"type":"text","fontSize":16,"dx":-22,"dy":4,"align":"center","baseline":"middle"},
       "encoding":{"y":{"field":"value","type":"quantitative","scale":{"domain":[0,2.5],"nice":false,"zero":false}},"text":{"field":"text"},"color":{"value":"#222222"}}},
      {"data":{"name":"boxes"},"transform":[{"filter":"datum.panel=='MnB'"}],"mark":{"type":"text","fontSize":15,"dy":25,"align":"center","baseline":"middle"},
       "encoding":{"y":{"datum":0,"type":"quantitative","scale":{"domain":[0,2.5],"nice":false,"zero":false}},"text":{"field":"n"}}}
   ]}
 ], "spacing": 32}
]
}
